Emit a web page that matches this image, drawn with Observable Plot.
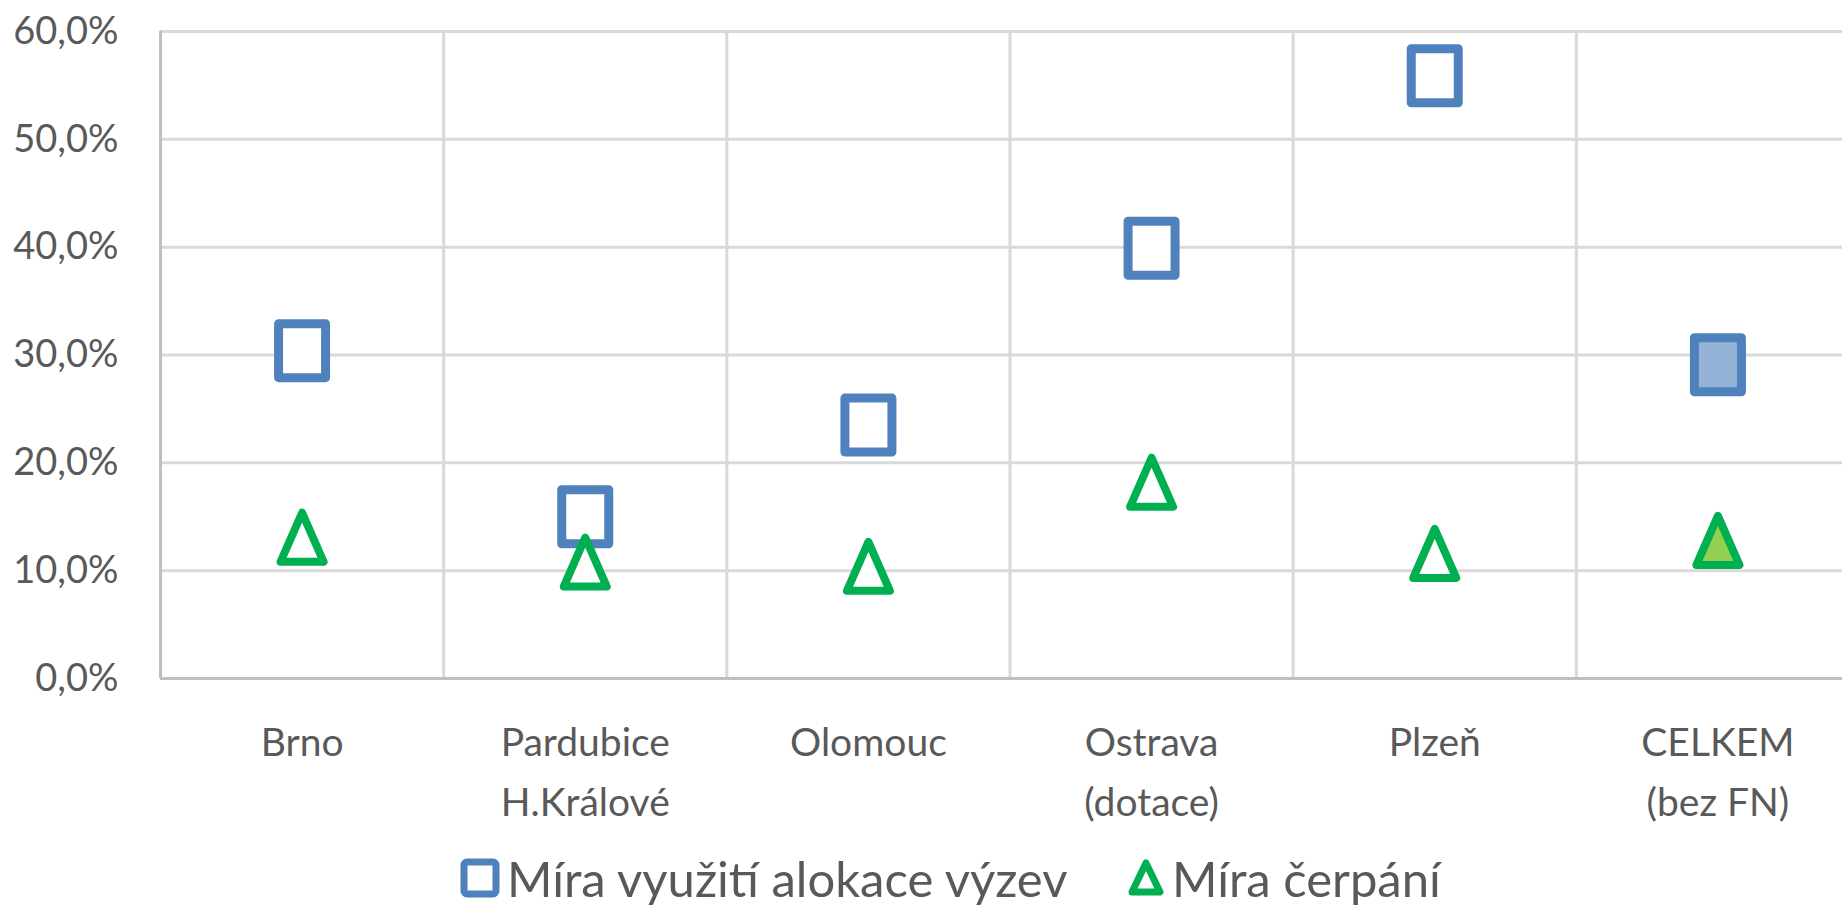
<!DOCTYPE html>
<html><head><meta charset="utf-8">
<script src="https://cdn.jsdelivr.net/npm/d3@7"></script>
<script src="https://cdn.jsdelivr.net/npm/@observablehq/plot@0.6"></script>
<style>
html,body{margin:0;padding:0;background:#fff;overflow:hidden;width:1842px;height:906px;position:relative}
#chart svg{display:block}
#legend{position:absolute;top:850px;left:0;width:1842px;height:56px;font-family:Lato,"Open Sans",sans-serif;font-size:49px;color:#595959}
#legend .item{position:absolute;top:0;height:56px;display:flex;align-items:center;white-space:nowrap;line-height:56px}
</style></head><body>
<div id="chart"></div>
<div id="legend"></div>
<script>
// ---- data ----
const categories = ["Brno", "Pardubice\nH.Králové", "Olomouc", "Ostrava\n(dotace)", "Plzeň", "CELKEM\n(bez FN)"];
const miraAlokace = [0.304, 0.150, 0.235, 0.399, 0.559, 0.291];
const miraCerpani = [0.131, 0.108, 0.104, 0.182, 0.116, 0.128];
const highlighted = ["CELKEM\n(bez FN)"];
const seriesNames = ["Míra využití alokace výzev", "Míra čerpání"];
const yTicks = [0, 0.1, 0.2, 0.3, 0.4, 0.5, 0.6];

// ---- styles ----
const FONT = 'Lato,"Open Sans",sans-serif';
const TEXT = "#595959";
const BLUE = "#4f81bd", BLUE_FILL = "#95b3d7";
const GREEN = "#00b050", GREEN_FILL = "#92d050";

const rows = categories.map((c, i) => ({
  cat: c, pos: i + 0.5, a: miraAlokace[i], b: miraCerpani[i], hi: highlighted.includes(c)
}));

const squareSym = {draw(ctx) { const w = 47, h = 54;
  ctx.moveTo(-w/2, -h/2); ctx.lineTo(w/2, -h/2); ctx.lineTo(w/2, h/2); ctx.lineTo(-w/2, h/2); ctx.closePath(); }};
const triSym = {draw(ctx) { const w = 43, h = 49;
  ctx.moveTo(0, -h/2); ctx.lineTo(w/2, h/2); ctx.lineTo(-w/2, h/2); ctx.closePath(); }};

const H = 845;
const plot = Plot.plot({
  width: 1842, height: H,
  marginLeft: 160, marginRight: -17, marginTop: 31, marginBottom: H - 678,
  x: {domain: [0, categories.length], axis: null},
  y: {domain: [0, 0.6], axis: null},
  style: {fontFamily: FONT, color: TEXT, background: "#fff"},
  marks: [
    Plot.ruleY(yTicks.slice(1), {stroke: "#d9d9d9", strokeWidth: 3}),
    Plot.ruleX(d3.range(1, categories.length + 1), {stroke: "#d9d9d9", strokeWidth: 3}),
    Plot.ruleX([0], {stroke: "#bfbfbf", strokeWidth: 3}),
    Plot.ruleY([0], {stroke: "#bfbfbf", strokeWidth: 3}),
    Plot.axisY({ticks: yTicks, tickFormat: d => d3.format(".1%")(d).replace(".", ","),
      tickSize: 0, tickPadding: 42, fontSize: 38, fill: TEXT, label: null}),
    Plot.text(rows, {x: "pos", y: () => 0, text: "cat", lineAnchor: "top", dy: 35,
      fontSize: 39, lineHeight: 60/39, fill: TEXT}),
    Plot.dot(rows, {x: "pos", y: "a", symbol: () => squareSym, r: 10,
      stroke: BLUE, strokeWidth: 9, strokeLinejoin: "round",
      fill: d => d.hi ? BLUE_FILL : "#fff"}),
    Plot.dot(rows, {x: "pos", y: "b", symbol: () => triSym, r: 10,
      stroke: GREEN, strokeWidth: 8, strokeLinejoin: "round",
      fill: d => d.hi ? GREEN_FILL : "#fff"})
  ]
});
document.getElementById("chart").appendChild(plot);

// ---- legend ----
const legend = document.getElementById("legend");
const items = [
  {name: seriesNames[0], left: 460, icon: `<svg width="40" height="40" style="margin-right:7px"><rect x="4" y="4" width="32" height="32" rx="3" fill="#fff" stroke="${BLUE}" stroke-width="7" stroke-linejoin="round"/></svg>`},
  {name: seriesNames[1], left: 1128, icon: `<svg width="36" height="38" style="margin-right:8px"><path d="M18,4 L32,33 L4,33 Z" fill="#fff" stroke="${GREEN}" stroke-width="7" stroke-linejoin="round"/></svg>`}
];
for (const it of items) {
  const div = document.createElement("div");
  div.className = "item";
  div.style.left = it.left + "px";
  div.innerHTML = it.icon + `<span>${it.name}</span>`;
  legend.appendChild(div);
}
</script>
</body></html>
